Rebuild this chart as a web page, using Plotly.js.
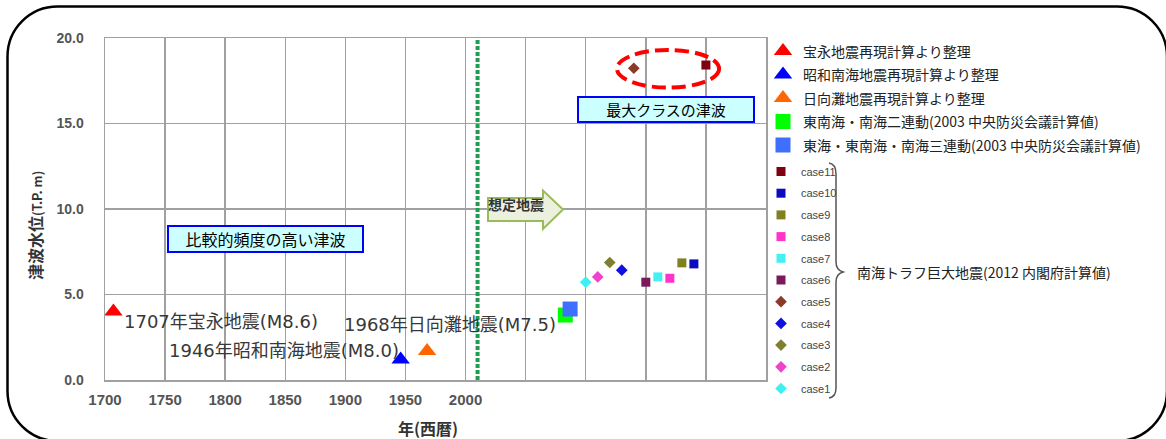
<!DOCTYPE html>
<html>
<head>
<meta charset="utf-8">
<script src="https://cdn.plot.ly/plotly-3.0.1.min.js"></script>
<style>html,body{margin:0;padding:0;background:#fff;}#chart{width:1166px;height:439px;}</style>
</head>
<body>
<div id="chart"></div>
<script>
// ---- data ----
const histNames = ['宝永地震再現計算より整理', '昭和南海地震再現計算より整理', '日向灘地震再現計算より整理'];
const histYears = [1707, 1946, 1968];
const histValues = [4.0, 1.2, 1.7];
const histColors = ['#ff0000', '#0000ff', '#ff6600'];
const histLabels = ['1707年宝永地震(M8.6)', '1946年昭和南海地震(M8.0)', '1968年日向灘地震(M7.5)'];

const scenNames = ['東南海・南海二連動(2003 中央防災会議計算値)', '東海・東南海・南海三連動(2003 中央防災会議計算値)'];
const scenYears = [2083, 2087];
const scenValues = [3.8, 4.15];
const scenColors = ['#00ff00', '#3f6fff'];

const caseNames = ['case1','case2','case3','case4','case5','case6','case7','case8','case9','case10','case11'];
const caseYears = [2100, 2110, 2120, 2130, 2140, 2150, 2160, 2170, 2180, 2190, 2200];
const caseValues = [5.72, 6.03, 6.87, 6.42, 18.23, 5.72, 6.03, 5.95, 6.85, 6.79, 18.42];
const caseColors = ['#40f0f0','#ee44cc','#7f7f30','#1010e0','#8b3a2a','#7a1a5a','#44f0f0','#ff33cc','#808020','#0a0ac0','#800010'];
const caseSymbols = ['diamond','diamond','diamond','diamond','diamond','square','square','square','square','square','square'];

const boundaryYear = 2010;
const xTicks = [1700,1750,1800,1850,1900,1950,2000,2050,2100,2150,2200,2250];
const xTickText = ['1700','1750','1800','1850','1900','1950','2000','','','','',''];
const yTicks = [0,5,10,15,20];
const yTickText = ['0.0','5.0','10.0','15.0','20.0'];

// ---- helpers (pixel -> paper) ----
const L = 105, T = 38, PW = 661, PH = 342;
const px = v => (v - L) / PW;
const py = v => (T + PH - v) / PH;

const CJK = '"Noto Sans CJK JP", sans-serif';
const LBL = '"DejaVu Sans", "Noto Sans CJK JP", sans-serif';
const traces = [];

histNames.forEach((n, i) => {
  traces.push({type:'scatter', mode:'markers', name:n, x:[histYears[i]], y:[histValues[i]],
    marker:{symbol:'triangle-up', size:16, color:histColors[i]},
    legend:'legend', legendgroup:'h'+i, hoverinfo:'skip'});
});
scenNames.forEach((n, i) => {
  traces.push({type:'scatter', mode:'markers', name:n, x:[scenYears[i]], y:[scenValues[i]],
    marker:{symbol:'square', size:15, color:scenColors[i]},
    legend:'legend', legendgroup:'s'+i, hoverinfo:'skip'});
});
// case legend lists case11 first
for (let i = caseNames.length - 1; i >= 0; i--) {
  traces.push({type:'scatter', mode:'markers', name:caseNames[i], x:[caseYears[i]], y:[caseValues[i]],
    marker:{symbol:caseSymbols[i], size:9, color:caseColors[i]},
    legend:'legend2', legendgroup:'c'+i, hoverinfo:'skip'});
}
traces.push({type:'scatter', mode:'lines', x:[boundaryYear, boundaryYear], y:[0, 20],
  line:{color:'#1e9e4e', width:4, dash:'4px,2px'}, showlegend:false, hoverinfo:'skip'});

// shapes
const P = (a, b) => px(a) + ',' + py(b);
function roundRect(x0, y0, x1, y1, r) {
  const k = 0.5523 * r;
  return 'M' + P(x0 + r, y0) + ' L' + P(x1 - r, y0) +
    ' C' + P(x1 - r + k, y0) + ' ' + P(x1, y0 + r - k) + ' ' + P(x1, y0 + r) +
    ' L' + P(x1, y1 - r) +
    ' C' + P(x1, y1 - r + k) + ' ' + P(x1 - r + k, y1) + ' ' + P(x1 - r, y1) +
    ' L' + P(x0 + r, y1) +
    ' C' + P(x0 + r - k, y1) + ' ' + P(x0, y1 - r + k) + ' ' + P(x0, y1 - r) +
    ' L' + P(x0, y0 + r) +
    ' C' + P(x0, y0 + r - k) + ' ' + P(x0 + r - k, y0) + ' ' + P(x0 + r, y0) + ' Z';
}
const arrowPath = 'M' + P(488, 198) + ' L' + P(543, 198) + ' L' + P(543, 190.5) + ' L' + P(563, 209.5) +
  ' L' + P(543, 229) + ' L' + P(543, 221) + ' L' + P(488, 221) + ' Z';
const bracePath = 'M' + P(829, 163) + ' Q' + P(836, 164) + ' ' + P(836, 174) + ' L' + P(836, 262) +
  ' Q' + P(836, 270) + ' ' + P(843, 272) + ' Q' + P(836, 274) + ' ' + P(836, 282) +
  ' L' + P(836, 388) + ' Q' + P(836, 397) + ' ' + P(829, 398);

const shapes = [
  {type:'path', xref:'paper', yref:'paper', path: roundRect(7.5, 6.5, 1167, 441, 50), line:{color:'#000', width:2.5}, layer:'above'},
  {type:'path', xref:'paper', yref:'paper', path: arrowPath, fillcolor:'#ebf1de', line:{color:'#9bbb59', width:2}},
  {type:'path', xref:'paper', yref:'paper', path: bracePath, line:{color:'#555', width:1.5}},
  {type:'circle', xref:'x', yref:'y', x0:2126, x1:2211, y0:17.1, y1:19.3, line:{color:'#ff0000', width:4, dash:'14px,6px'}}
];

const ann = (o) => Object.assign({showarrow:false, xanchor:'center', yanchor:'middle'}, o);
const annotations = [
  ann({xref:'x', yref:'y', x:1714, y:3.41, text:histLabels[0], xanchor:'left', font:{family:LBL, size:18, color:'#383838'}}),
  ann({xref:'x', yref:'y', x:1751.4, y:1.75, text:histLabels[1], xanchor:'left', font:{family:LBL, size:18, color:'#383838'}}),
  ann({xref:'x', yref:'y', x:1897.2, y:3.27, text:histLabels[2], xanchor:'left', font:{family:LBL, size:18, color:'#383838'}}),
  ann({xref:'x', yref:'y', x:1833.75, y:8.25, text:'比較的頻度の高い津波', font:{family:CJK, size:16, color:'#000'},
    bgcolor:'#ccffff', bordercolor:'#0000ff', borderwidth:2, borderpad:0, width:193, height:24}),
  ann({xref:'x', yref:'y', x:2166.7, y:15.82, text:'最大クラスの津波', font:{family:CJK, size:15, color:'#000'},
    bgcolor:'#ccffff', bordercolor:'#0000ff', borderwidth:2, borderpad:0, width:174, height:23}),
  ann({xref:'paper', yref:'paper', x:px(516), y:py(204), text:'<b>想定地震</b>', font:{family:CJK, size:14, color:'#333'}}),
  ann({xref:'paper', yref:'paper', x:px(855), y:py(272), xanchor:'left', text:'南海トラフ巨大地震(2012 内閣府計算値)', font:{family:CJK, size:14, color:'#222'}}),
  ann({xref:'paper', yref:'paper', x:px(35), y:py(226), textangle:-90, text:'<b>津波水位<span style="font-size:12.5px">(T.P. m)</span></b>', font:{family:CJK, size:16, color:'#333'}}),
  ann({xref:'paper', yref:'paper', x:px(428), y:py(428), text:'<b>年(西暦)</b>', font:{family:CJK, size:16, color:'#333'}})
];

const layout = {
  width:1166, height:439,
  margin:{l:L, r:1166 - L - PW, t:T, b:439 - T - PH, pad:0},
  paper_bgcolor:'#fff', plot_bgcolor:'#fff',
  xaxis:{range:[1700, 2250], tickmode:'array', tickvals:xTicks, ticktext:xTickText,
    showgrid:true, gridcolor:'#a0a0a0', gridwidth:1.5, zeroline:false,
    showline:true, linecolor:'#a0a0a0', linewidth:1.5, mirror:true,
    ticks:'outside', ticklen:5, tickcolor:'rgba(0,0,0,0)',
    tickfont:{family:'"Liberation Sans", Arial, sans-serif', size:15, color:'#555', weight:'bold'}},
  yaxis:{range:[0, 20], tickmode:'array', tickvals:yTicks, ticktext:yTickText,
    showgrid:true, gridcolor:'#a0a0a0', gridwidth:1.5, zeroline:false,
    showline:true, linecolor:'#a0a0a0', linewidth:1.5, mirror:true,
    ticks:'outside', ticklen:17, tickcolor:'rgba(0,0,0,0)',
    tickfont:{family:'"Liberation Sans", Arial, sans-serif', size:14, color:'#555', weight:'bold'}},
  showlegend:true,
  legend:{x:px(763), y:py(35.5), xanchor:'left', yanchor:'top', bgcolor:'rgba(0,0,0,0)',
    font:{family:CJK, size:14, color:'#222'}, traceorder:'grouped', tracegroupgap:2.3, itemsizing:'trace'},
  legend2:{x:px(761), y:py(157), xanchor:'left', yanchor:'top', bgcolor:'rgba(0,0,0,0)',
    font:{family:'"Liberation Sans", Arial, sans-serif', size:11, color:'#444'}, traceorder:'grouped', tracegroupgap:2.7, itemsizing:'trace'},
  shapes:shapes, annotations:annotations
};

Plotly.newPlot('chart', traces, layout, {staticPlot:true, displayModeBar:false});
</script>
</body>
</html>
